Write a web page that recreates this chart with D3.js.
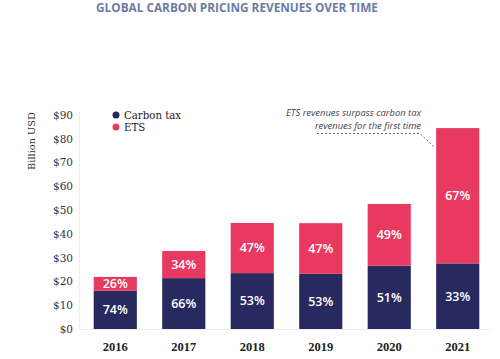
<!DOCTYPE html>
<html><head><meta charset="utf-8">
<script src="https://cdn.jsdelivr.net/npm/d3@7"></script>
<style>body{margin:0;background:#fff}svg{display:block}</style>
</head><body>
<script>
const years = ["2016","2017","2018","2019","2020","2021"];
const carbonTax = [16.1, 21.4, 23.5, 23.2, 26.6, 27.6];
const ets = [5.8, 11.4, 21.1, 21.3, 26.0, 56.9];
const taxPct = ["74%","66%","53%","53%","51%","33%"];
const etsPct = ["26%","34%","47%","47%","49%","67%"];
const yTicks = [0,10,20,30,40,50,60,70,80,90];
const seriesNames = ["Carbon tax","ETS"];
const colors = ["#27295f","#e83a60"];

const W=500,H=359;
const svg=d3.select("body").append("svg").attr("width",W).attr("height",H);
const y=d3.scaleLinear().domain([0,90]).range([329,115]);
const x=d3.scaleBand().domain(years).range([80,493]).paddingInner(0.37).paddingOuter(0.2);

svg.append("text").attr("x",237).attr("y",12).attr("text-anchor","middle")
  .attr("font-family","Open Sans").attr("font-weight","bold").attr("font-size",11.8)
  .attr("fill","#6b7ba4").text("GLOBAL CARBON PRICING REVENUES OVER TIME");

// axes lines
svg.append("line").attr("x1",79.5).attr("x2",79.5).attr("y1",112).attr("y2",329).attr("stroke","#eeeeee");
svg.append("line").attr("x1",79).attr("x2",492).attr("y1",329.5).attr("y2",329.5).attr("stroke","#eeeeee");

const yAxis=d3.axisLeft(y).tickValues(yTicks).tickSize(0).tickPadding(0).tickFormat(d=>"$"+d);
const ga=svg.append("g").attr("transform","translate(73,0)").call(yAxis);
ga.select(".domain").remove();
ga.selectAll("text").attr("font-family","DejaVu Serif").attr("font-size",10.5).attr("fill","#333");

svg.append("text").attr("transform","translate(35,141) rotate(-90)").attr("text-anchor","middle")
  .attr("font-family","DejaVu Serif").attr("font-size",9.8).attr("fill","#333").text("Billion USD");

const xAxis=d3.axisBottom(x).tickSize(0).tickPadding(0);
const gx=svg.append("g").attr("transform","translate(0,342)").call(xAxis);
gx.select(".domain").remove();
gx.selectAll("text").attr("font-family","Liberation Serif").attr("font-weight","bold").attr("font-size",12.5).attr("fill","#222");

const g=svg.append("g");
years.forEach((yr,i)=>{
  const x0=x(yr), bw=x.bandwidth();
  const t0=y(0), t1=y(carbonTax[i]), t2=y(carbonTax[i]+ets[i]);
  g.append("rect").attr("x",x0).attr("width",bw).attr("y",t1).attr("height",t0-t1).attr("fill",colors[0]);
  g.append("rect").attr("x",x0).attr("width",bw).attr("y",t2).attr("height",t1-t2).attr("fill",colors[1]);
  g.append("text").attr("x",x0+bw/2).attr("y",(t0+t1)/2).attr("dy","0.35em").attr("text-anchor","middle")
    .attr("font-family","Open Sans").attr("font-weight","600").attr("font-size",12.5).attr("fill","#fff").text(taxPct[i]);
  g.append("text").attr("x",x0+bw/2).attr("y",(t1+t2)/2).attr("dy","0.35em").attr("text-anchor","middle")
    .attr("font-family","Open Sans").attr("font-weight","600").attr("font-size",12.5).attr("fill","#fff").text(etsPct[i]);
});

// legend
seriesNames.forEach((n,i)=>{
  svg.append("circle").attr("cx",116).attr("cy",115+i*12).attr("r",3.5).attr("fill",colors[i]);
  svg.append("text").attr("x",124).attr("y",115+i*12).attr("dy","0.35em")
    .attr("font-family","DejaVu Serif").attr("font-size",10.2).attr("fill","#222").text(n);
});

// annotation
const ann=svg.append("g").attr("font-family","Open Sans").attr("font-style","italic").attr("font-size",9.4).attr("fill","#444").attr("text-anchor","end");
ann.append("text").attr("x",421).attr("y",115.5).text("ETS revenues surpass carbon tax");
ann.append("text").attr("x",421).attr("y",128.5).text("revenues for the first time");
const lx=x("2021");
svg.append("path").attr("d",`M317,133.5 L420,133.5 L${lx-1},148`).attr("fill","none")
  .attr("stroke","#555").attr("stroke-width",0.9).attr("stroke-dasharray","2,2");
</script>
</body></html>
